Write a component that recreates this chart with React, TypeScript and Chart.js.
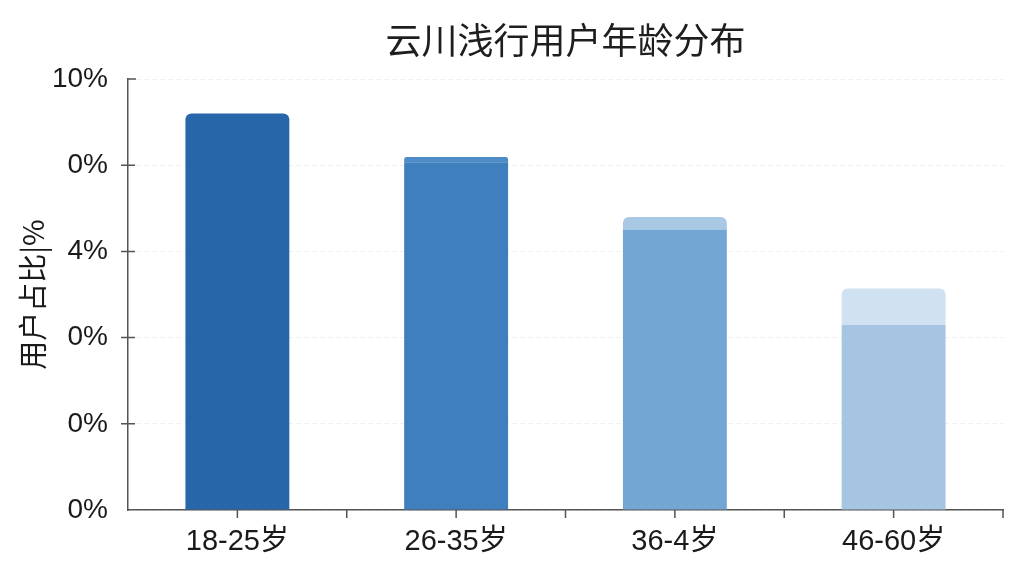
import { useEffect, useRef } from 'react';
import { Chart, registerables } from 'chart.js';

Chart.register(...registerables);

const ageGroups = ['18-25岁', '26-35岁', '36-4岁', '46-60岁'];
const baseShare = [9.2, 8.07, 6.51, 4.29];
const topShare = [0, 0.12, 0.29, 0.85];
const yTickLabels = ['0%', '0%', '0%', '4%', '0%', '10%'];

const baseColors = ['#2767a9', '#3f7fbd', '#74a6d3', '#a6c5e2'];
const topColors = ['#2767a9', '#4f8bc6', '#a9c8e4', '#d0e1f1'];

const AXIS_COLOR = '#555555';

// small tick marks crossing the y axis and hanging under the x axis
const tickMarks = {
  id: 'tickMarks',
  afterDraw(chart: Chart) {
    const { ctx, scales } = chart;
    const x = scales.x;
    const y = scales.y;
    ctx.save();
    ctx.strokeStyle = AXIS_COLOR;
    ctx.lineWidth = 1.5;
    ctx.beginPath();
    const last = y.ticks.length - 1;
    y.ticks.forEach((_t, i) => {
      if (i === 0) return;
      const py = y.getPixelForTick(i);
      if (i === last) {
        ctx.moveTo(x.left, py);
        ctx.lineTo(x.left + 8, py);
      } else {
        ctx.moveTo(x.left - 7, py);
        ctx.lineTo(x.left + 7, py);
      }
    });
    const half = (x.right - x.left) / ageGroups.length / 2;
    ageGroups.forEach((_g, i) => {
      const px = x.getPixelForTick(i);
      ctx.moveTo(px, x.top);
      ctx.lineTo(px, x.top + 8);
      ctx.moveTo(px + half, x.top);
      ctx.lineTo(px + half, x.top + 8);
    });
    ctx.stroke();
    ctx.restore();
  },
};

export default function App() {
  const canvasRef = useRef<HTMLCanvasElement>(null);

  useEffect(() => {
    if (!canvasRef.current) return;
    const topRadius = { topLeft: 6, topRight: 6, bottomLeft: 0, bottomRight: 0 };

    const chart = new Chart(canvasRef.current, {
      type: 'bar',
      data: {
        labels: ageGroups,
        datasets: [
          {
            label: 'base',
            data: baseShare,
            backgroundColor: baseColors,
            borderRadius: (c: any) => (topShare[c.dataIndex] > 0 ? 0 : topRadius),
            borderSkipped: 'start',
            barPercentage: 0.475,
            categoryPercentage: 1,
          },
          {
            label: 'top',
            data: topShare,
            backgroundColor: topColors,
            borderRadius: topRadius,
            borderSkipped: 'start',
            barPercentage: 0.475,
            categoryPercentage: 1,
          },
        ],
      },
      options: {
        responsive: false,
        animation: false,
        layout: { padding: { left: 0, right: 21, top: 0, bottom: 0 } },
        plugins: {
          legend: { display: false },
          tooltip: { enabled: false },
          title: {
            display: true,
            fullSize: false,
            text: '云川浅行用户年龄分布',
            color: '#1e1e1e',
            font: { family: "'Noto Sans CJK SC', sans-serif", size: 36, weight: 'normal', lineHeight: 1 },
            padding: { top: 22, bottom: 21 },
          },
        },
        scales: {
          x: {
            stacked: true,
            afterFit: (s: any) => {
              s.height = 66;
            },
            grid: { display: false, drawTicks: false },
            border: { display: true, color: AXIS_COLOR, width: 1.5 },
            ticks: {
              color: '#1a1a1a',
              padding: 15,
              font: { family: "'Liberation Sans', 'Noto Sans CJK SC', sans-serif", size: 29 },
            },
          },
          y: {
            stacked: true,
            min: 0,
            max: 10,
            afterFit: (s: any) => {
              s.width = 128;
            },
            grid: { color: 'rgba(0,0,0,0.07)', drawTicks: false },
            border: { display: true, color: AXIS_COLOR, width: 1.5, dash: [4, 4] },
            ticks: {
              stepSize: 2,
              color: '#1a1a1a',
              padding: 20,
              font: { family: "'Liberation Sans', 'Noto Sans', sans-serif", size: 28 },
              callback: (_v: any, i: number) => yTickLabels[i],
            },
            title: {
              display: true,
              text: '用户占比|%',
              color: '#1a1a1a',
              font: { family: "'Noto Sans CJK SC', sans-serif", size: 29 },
              padding: { top: 16, bottom: 0 },
            },
          },
        },
      },
      plugins: [tickMarks],
    });

    return () => chart.destroy();
  }, []);

  return (
    <div style={{ position: 'absolute', left: 0, top: 0, width: 1024, height: 576, background: '#ffffff' }}>
      <canvas ref={canvasRef} width={1024} height={576}></canvas>
    </div>
  );
}
